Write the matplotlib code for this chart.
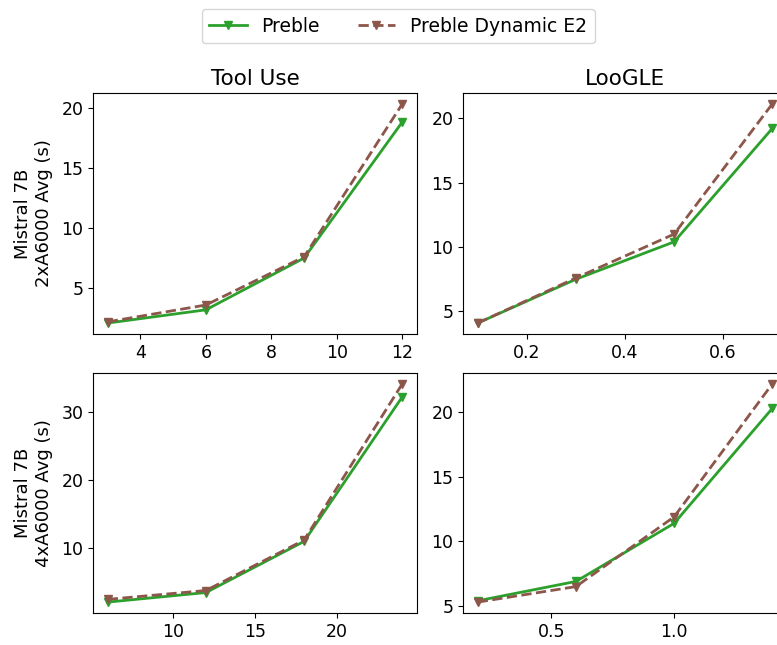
import matplotlib
matplotlib.use("Agg")
import matplotlib.pyplot as plt

# Tool Use (top) / LooGLE (top right), 2xA6000
tool_x_2 = [3, 6, 9, 12]
tool_preble_2 = [2.1, 3.2, 7.5, 18.8]
tool_dyn_2 = [2.2, 3.6, 7.6, 20.3]

loogle_x_2 = [0.1, 0.3, 0.5, 0.7]
loogle_preble_2 = [4.1, 7.5, 10.4, 19.2]
loogle_dyn_2 = [4.1, 7.6, 11.0, 21.1]

# 4xA6000
tool_x_4 = [6, 12, 18, 24]
tool_preble_4 = [2.1, 3.5, 11.0, 32.2]
tool_dyn_4 = [2.5, 3.8, 11.2, 34.1]

loogle_x_4 = [0.2, 0.6, 1.0, 1.4]
loogle_preble_4 = [5.4, 6.9, 11.4, 20.3]
loogle_dyn_4 = [5.3, 6.5, 11.9, 22.2]

titles = ["Tool Use", "LooGLE"]
row_labels = ["Mistral 7B\n2xA6000 Avg (s)", "Mistral 7B\n4xA6000 Avg (s)"]

W, H = 777, 645
fig = plt.figure(figsize=(W / 100, H / 100), dpi=100)

def box(l, t, w, h):
    return [l / W, 1 - (t + h) / H, w / W, h / H]

axes = [[fig.add_axes(box(93, 93, 324, 241)), fig.add_axes(box(463, 93, 324, 241))],
        [fig.add_axes(box(93, 373, 324, 240)), fig.add_axes(box(463, 373, 324, 240))]]

data = [[(tool_x_2, tool_preble_2, tool_dyn_2), (loogle_x_2, loogle_preble_2, loogle_dyn_2)],
        [(tool_x_4, tool_preble_4, tool_dyn_4), (loogle_x_4, loogle_preble_4, loogle_dyn_4)]]

for r in range(2):
    for c in range(2):
        ax = axes[r][c]
        x, p, d = data[r][c]
        ax.plot(x, p, color="tab:green", linestyle="-", marker="v", markersize=5.5,
                linewidth=2, label="Preble")
        ax.plot(x, d, color="tab:brown", linestyle="--", marker="v", markersize=5.5,
                linewidth=2, label="Preble Dynamic E2")
        ax.tick_params(labelsize=12.5)
        if r == 0:
            ax.set_title(titles[c], fontsize=15.5, pad=6)
        if c == 0:
            ax.set_ylabel(row_labels[r], fontsize=13, labelpad=6)

axes[1][0].set_yticks([10, 20, 30])
axes[0][1].set_xticks([0.2, 0.4, 0.6])
axes[1][1].set_xticks([0.5, 1.0])

handles, labels = axes[0][0].get_legend_handles_labels()
fig.legend(handles, labels, loc="upper center", ncol=2, fontsize=13.5,
           bbox_to_anchor=(398 / W, 1.0), columnspacing=2.0)

fig.savefig("out.png", dpi=100)
